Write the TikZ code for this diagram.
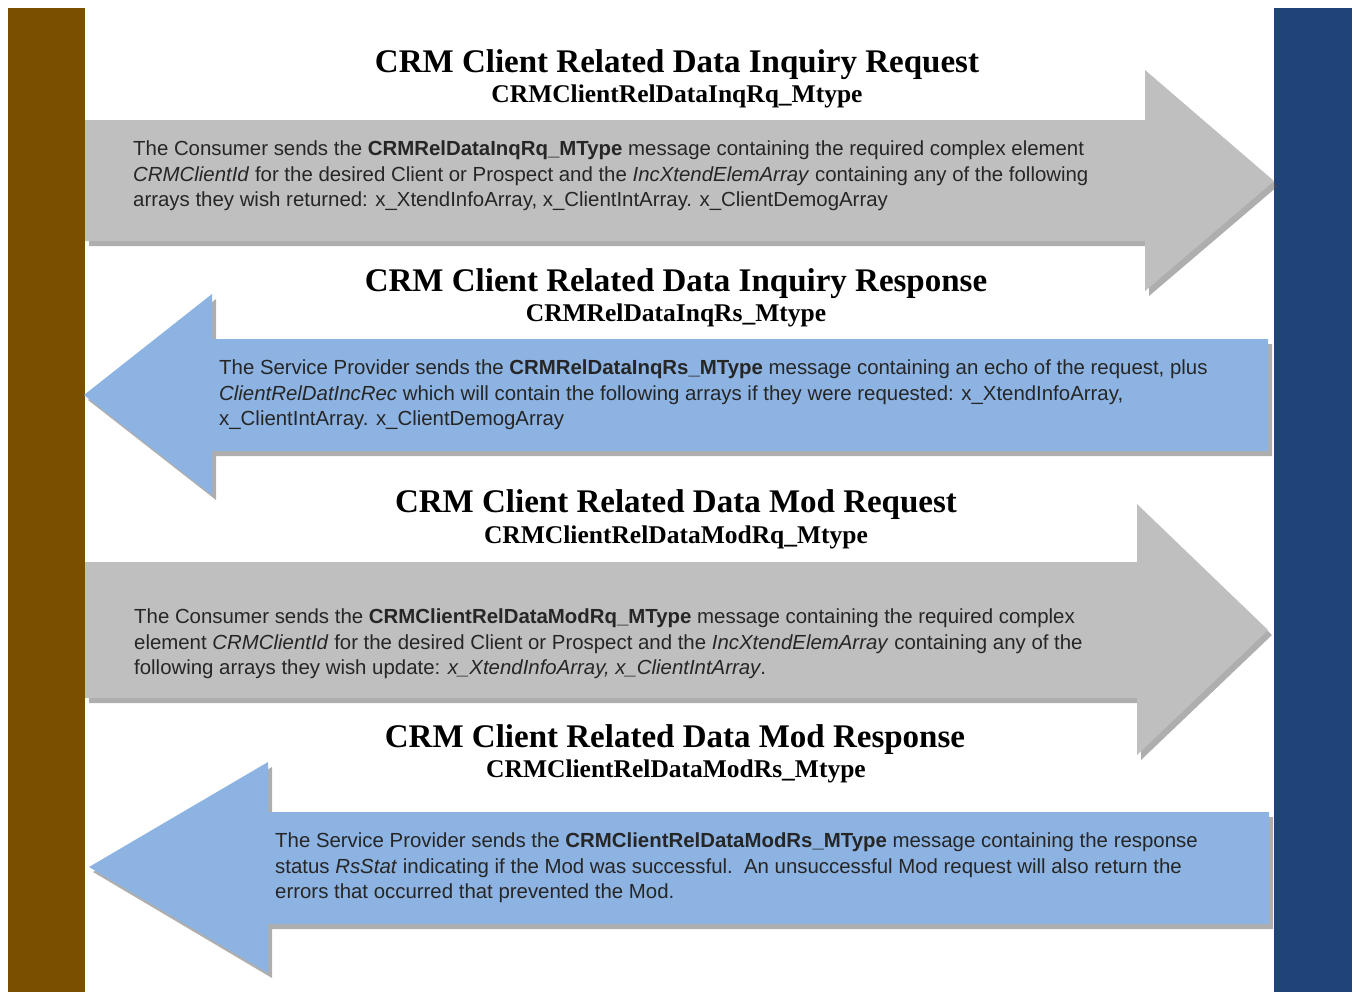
\documentclass[tikz,border=0pt]{standalone}
\usepackage{fontspec}
\setmainfont{Liberation Serif}
\newfontfamily\bodyfont{Liberation Sans}
\usetikzlibrary{shadows}
\definecolor{barbrown}{RGB}{122,79,0}
\definecolor{barblue}{RGB}{31,68,121}
\definecolor{reqgray}{RGB}{191,191,191}
\definecolor{rsblue}{RGB}{141,179,226}
\begin{document}
\begin{tikzpicture}[x=1pt,y=-1pt,
	reqarrow/.style={fill=reqgray, drop shadow={shadow xshift=4pt, shadow yshift=-5pt, fill=black!70, opacity=0.45}},
	rsarrow/.style={fill=rsblue, drop shadow={shadow xshift=4pt, shadow yshift=-5pt, fill=black!70, opacity=0.45}},
	msgtitle/.style={anchor=base, inner sep=0pt, font=\fontsize{33}{36}\selectfont\bfseries},
	msgtype/.style={anchor=base, inner sep=0pt, font=\fontsize{25.5}{28}\selectfont\bfseries},
	msgtext/.style={anchor=north west, inner sep=0pt, align=left, text=black!85,
		font=\bodyfont\fontsize{20.4}{25.5}\selectfont}]
	\useasboundingbox (0,0) rectangle (1353,994);
	% side bars
	\fill[barbrown] (8,8) rectangle (85,992);
	\fill[barblue] (1274,8) rectangle (1352,992);
	% arrows
	\fill[reqarrow] (85,120) -- (1145,120) -- (1145,70) -- (1274,181)
		-- (1145,291) -- (1145,241) -- (85,241) -- cycle;
	\fill[rsarrow] (1268,339) -- (212,339) -- (212,294) -- (84,395)
		-- (212,495) -- (212,451) -- (1268,451) -- cycle;
	\fill[reqarrow] (85,562) -- (1137,562) -- (1137,504) -- (1268,630)
		-- (1137,755) -- (1137,698) -- (85,698) -- cycle;
	\fill[rsarrow] (1269,812) -- (268,812) -- (268,762) -- (89,867)
		-- (268,973) -- (268,924) -- (1269,924) -- cycle;
	% titles
	\node[msgtitle] at (677,72) (inqrq) {CRM Client Related Data Inquiry Request};
	\node[msgtype] at (677,102) (inqrqtype) {CRMClientRelDataInqRq\_Mtype};
	\node[msgtitle] at (676,291) (inqrs) {CRM Client Related Data Inquiry Response};
	\node[msgtype] at (676,321) (inqrstype) {CRMRelDataInqRs\_Mtype};
	\node[msgtitle] at (676,512) (modrq) {CRM Client Related Data Mod Request};
	\node[msgtype] at (676,543) (modrqtype) {CRMClientRelDataModRq\_Mtype};
	\node[msgtitle] at (675,747) (modrs) {CRM Client Related Data Mod Response};
	\node[msgtype] at (676,777) (modrstype) {CRMClientRelDataModRs\_Mtype};
	% message texts
	\node[msgtext] at (133,141) (inqrqtext) {The Consumer sends the \textbf{CRMRelDataInqRq\_MType} message containing the required complex element\\
		\textit{CRMClientId} for the desired Client or Prospect and the \textit{IncXtendElemArray} containing any of the following\\
		arrays they wish returned: x\_XtendInfoArray, x\_ClientIntArray. x\_ClientDemogArray};
	\node[msgtext] at (219,360) (inqrstext) {The Service Provider sends the \textbf{CRMRelDataInqRs\_MType} message containing an echo of the request, plus\\
		\textit{ClientRelDatIncRec} which will contain the following arrays if they were requested: x\_XtendInfoArray,\\
		x\_ClientIntArray. x\_ClientDemogArray};
	\node[msgtext] at (134,609) (modrqtext) {The Consumer sends the \textbf{CRMClientRelDataModRq\_MType} message containing the required complex\\
		element \textit{CRMClientId} for the desired Client or Prospect and the \textit{IncXtendElemArray} containing any of the\\
		following arrays they wish update: \textit{x\_XtendInfoArray, x\_ClientIntArray}.};
	\node[msgtext] at (275,833) (modrstext) {The Service Provider sends the \textbf{CRMClientRelDataModRs\_MType} message containing the response\\
		status \textit{RsStat} indicating if the Mod was successful.\ \ An unsuccessful Mod request will also return the\\
		errors that occurred that prevented the Mod.};
\end{tikzpicture}
\end{document}
